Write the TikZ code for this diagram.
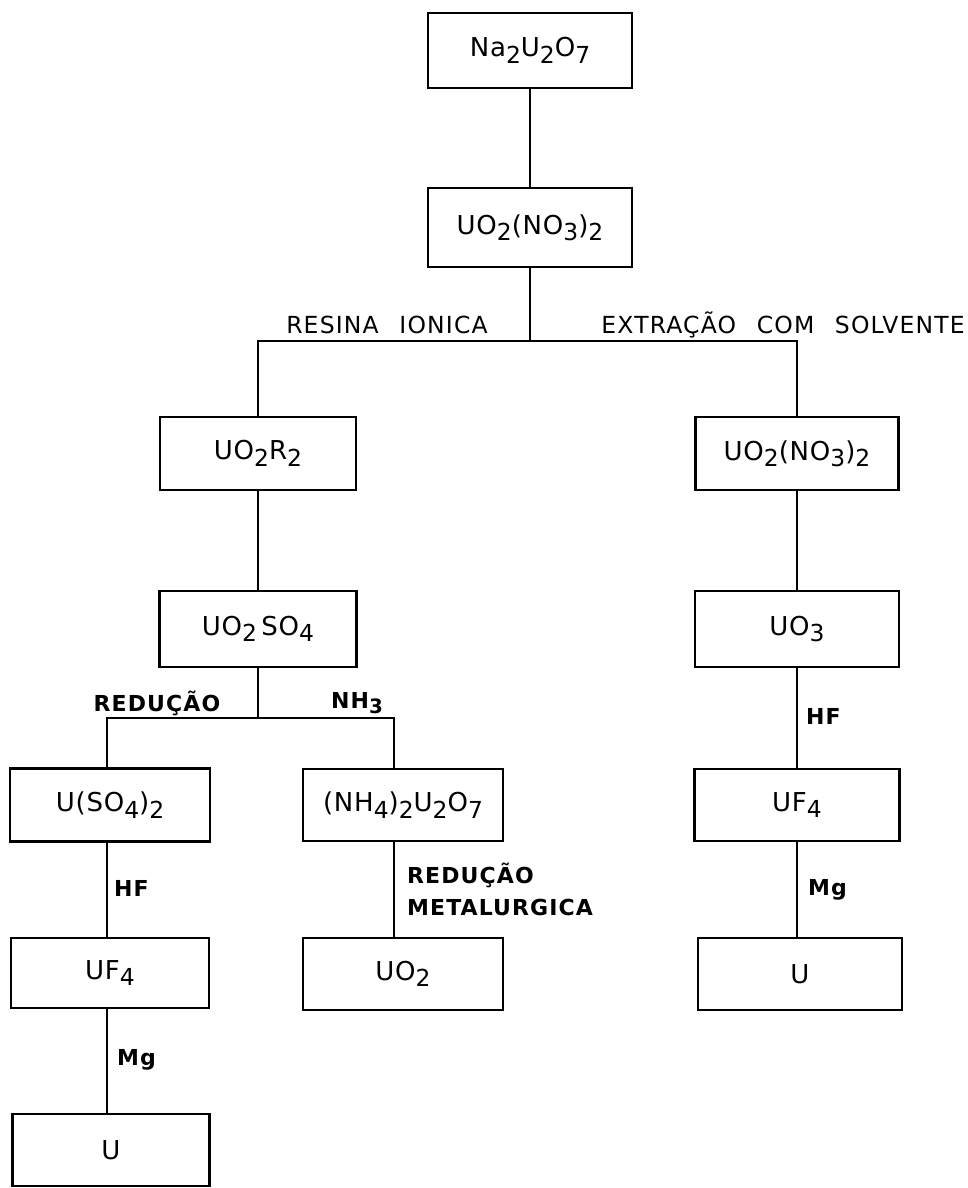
\documentclass[tikz,border=0pt]{standalone}
\usepackage{graphicx}
\usepackage{fontspec}
\setmainfont{DejaVu Sans}
\newfontfamily\boxfont[LetterSpace=3]{DejaVu Sans}
\newfontfamily\lblfont[LetterSpace=5]{DejaVu Sans}
\newfontfamily\blfont[LetterSpace=5]{DejaVu Sans Bold}
\newcommand{\dn}[1]{\raisebox{-0.45ex}{\scalebox{0.9}{#1}}}
\tikzset{
  box/.style={draw, line width=2.2pt, minimum width=200pt, minimum height=74pt, inner sep=0pt,
    font=\boxfont\fontsize{26}{30}\selectfont},
  lbl/.style={inner sep=0pt, font=\lblfont\fontsize{23.5}{28}\selectfont},
  blbl/.style={inner sep=0pt, font=\blfont\fontsize{22}{26}\selectfont},
  conn/.style={line width=2.2pt}
}
\begin{document}
\begin{tikzpicture}[x=1pt,y=-1pt]
\useasboundingbox (0,0) rectangle (967,1188);
% boxes
\node[box, minimum width=204pt, minimum height=75pt] (n1) at (530,50.5) {Na\dn{2}U\dn{2}O\dn{7}};
\node[box, minimum width=204pt, minimum height=79pt] (n2) at (530,227.5) {UO\dn{2}(NO\dn{3})\dn{2}};
\node[box, minimum width=196pt, minimum height=73pt] (n3) at (258,453.5) {UO\dn{2}R\dn{2}};
\node[box, minimum width=203pt, minimum height=73pt] (n4) at (797,453.5) {UO\dn{2}(NO\dn{3})\dn{2}};
\node[box, minimum width=197pt, minimum height=76pt] (n5) at (258,629) {UO\dn{2}\,SO\dn{4}};
\node[box, minimum width=204pt, minimum height=76pt] (n6) at (797,629) {UO\dn{3}};
\node[box, minimum height=73pt] (n7) at (110,805) {U(SO\dn{4})\dn{2}};
\node[box, minimum height=72pt] (n8) at (403,805) {(NH\dn{4})\dn{2}U\dn{2}O\dn{7}};
\node[box, minimum width=205pt, minimum height=72pt] (n9) at (797,805) {UF\dn{4}};
\node[box, minimum width=198pt, minimum height=70pt] (n10) at (110,973) {UF\dn{4}};
\node[box, minimum height=72pt] (n11) at (403,974) {UO\dn{2}};
\node[box, minimum width=204pt, minimum height=72pt] (n12) at (800,974) {U};
\node[box, minimum width=197pt, minimum height=72pt] (n13) at (111,1150) {U};
% labels
\node[lbl] (l1) at (387,325) {RESINA\hspace{12pt} IONICA};
\node[lbl, anchor=east] (l2) at (965,325) {EXTRAÇÃO\hspace{12pt} COM\hspace{12pt} SOLVENTE};
\node[blbl] (l3) at (157,703) {REDUÇÃO};
\node[blbl] (l4) at (357,703) {NH\dn{3}};
\node[blbl, anchor=west] (l5) at (806,716) {HF};
\node[blbl, anchor=west] (l6) at (808,890) {Mg};
\node[blbl, anchor=west] (l7) at (114,888) {HF};
\node[blbl, anchor=west] (l8) at (117,1060) {Mg};
\node[blbl, anchor=west] (l9) at (407,875) {REDUÇÃO};
\node[blbl, anchor=west] (l10) at (407,907) {METALURGICA};
% connectors
\coordinate (j1) at (530,341);
\coordinate (j2) at (258,718);
\draw[conn] (n1.south) -- (n2.north);
\draw[conn] (n2.south) -- (j1);
\draw[conn] (n3.north) |- (j1) -| (n4.north);
\draw[conn] (n3.south) -- (n5.north);
\draw[conn] (n4.south) -- (n6.north);
\draw[conn] (n5.south) -- (j2);
\draw[conn] ([xshift=-3pt]n7.north) |- (j2) -| ([xshift=-9pt]n8.north);
\draw[conn] (n6.south) -- (n9.north);
\draw[conn] ([xshift=-3pt]n7.south) -- ([xshift=-3pt]n10.north);
\draw[conn] ([xshift=-9pt]n8.south) -- ([xshift=-9pt]n11.north);
\draw[conn] (n9.south) -- ([xshift=-3pt]n12.north);
\draw[conn] ([xshift=-3pt]n10.south) -- ([xshift=-4pt]n13.north);
\end{tikzpicture}
\end{document}
